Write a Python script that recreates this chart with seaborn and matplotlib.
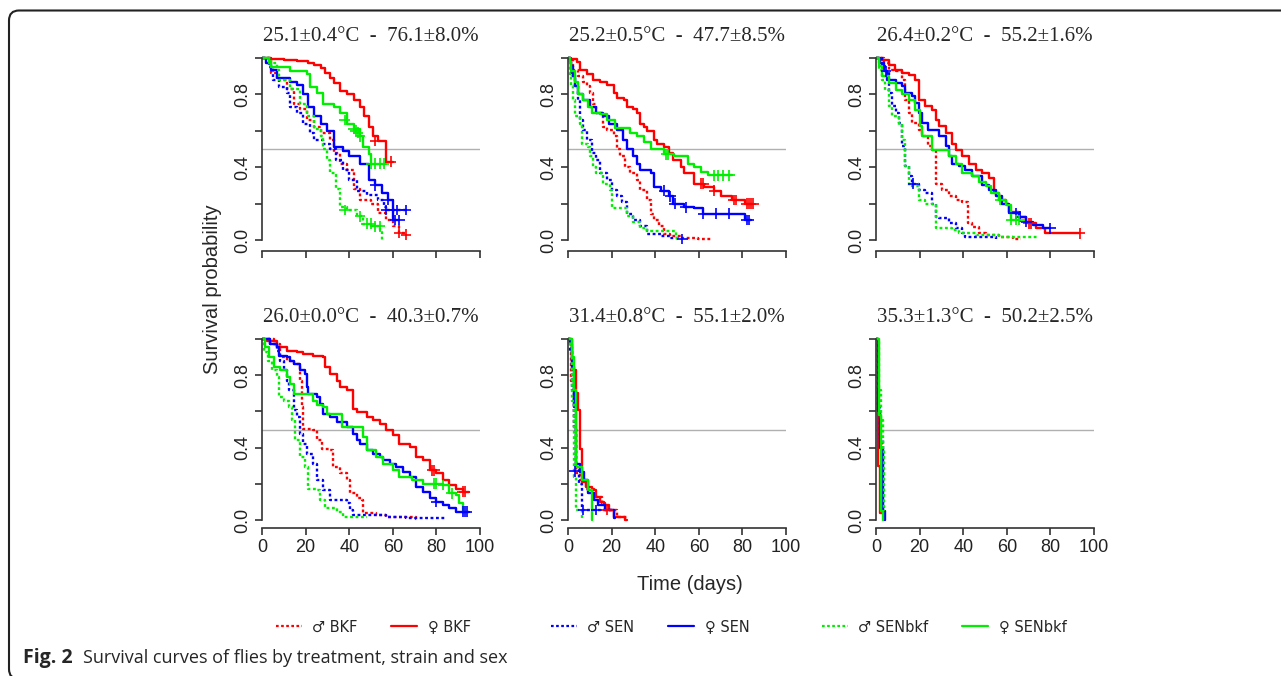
import pandas as pd
import matplotlib
matplotlib.use('Agg')
import matplotlib.pyplot as plt
import seaborn as sns
from matplotlib.lines import Line2D
from matplotlib.patches import FancyBboxPatch
from matplotlib.transforms import IdentityTransform

# groups, colours, line styles
GROUPS = ["♂ BKF", "♀ BKF", "♂ SEN", "♀ SEN", "♂ SENbkf", "♀ SENbkf"]
PALETTE = {"♂ BKF": "#ff0000", "♀ BKF": "#ff0000",
           "♂ SEN": "#0000ff", "♀ SEN": "#0000ff",
           "♂ SENbkf": "#00ee00", "♀ SENbkf": "#00ee00"}
DASHES = {"♂ BKF": (1.2, 1.1), "♀ BKF": "",
          "♂ SEN": (1.2, 1.1), "♀ SEN": "",
          "♂ SENbkf": (1.2, 1.1), "♀ SENbkf": ""}

TITLES = ["25.1±0.4°C  -  76.1±8.0%", "25.2±0.5°C  -  47.7±8.5%",
          "26.4±0.2°C  -  55.2±1.6%", "26.0±0.0°C  -  40.3±0.7%",
          "31.4±0.8°C  -  55.1±2.0%", "35.3±1.3°C  -  50.2±2.5%"]
X_TICKS = [0, 20, 40, 60, 80, 100]
Y_TICKS = [0.0, 0.2, 0.4, 0.6, 0.8, 1.0]
Y_TICK_LABELS = ["0.0", "", "0.4", "", "0.8", ""]

# ---- panel 1 : 25.1 C / 76.1 %
p1_time = {
    "♂ BKF": [0, 4, 7, 11.5, 14.5, 17.5, 20.6, 24, 27, 31, 33, 36, 39, 42, 45, 50, 53, 57, 60, 63, 66],
    "♀ BKF": [0, 4, 10, 16, 21, 24, 27, 29, 31, 33, 36, 39, 42, 45, 47, 49, 51, 53, 57, 60],
    "♂ SEN": [0, 3, 5, 8, 11.5, 13, 16, 19, 22, 24, 28, 31, 34, 37, 40, 43.5, 48, 53, 56, 57, 66],
    "♀ SEN": [0, 2, 4, 7, 13, 16, 19, 21, 24, 27, 30, 33, 37, 40, 45, 49, 52, 55, 58, 60, 63],
    "♂ SENbkf": [0, 4, 7, 8, 13, 17.5, 20.6, 24, 27, 28, 30, 31, 34, 36, 39, 43.5, 46.5, 50, 54, 55],
    "♀ SENbkf": [0, 3, 4, 13, 20.6, 22, 25, 28, 33, 36, 39, 42, 45, 46.5, 49, 50, 57],
}
p1_surv = {
    "♂ BKF": [1, 0.92, 0.88, 0.83, 0.75, 0.72, 0.66, 0.62, 0.59, 0.55, 0.48, 0.42, 0.385, 0.28, 0.22, 0.20, 0.15, 0.11, 0.075, 0.04, 0.03],
    "♀ BKF": [1, 0.995, 0.99, 0.985, 0.975, 0.96, 0.945, 0.92, 0.89, 0.86, 0.82, 0.80, 0.77, 0.73, 0.68, 0.62, 0.57, 0.545, 0.43, 0.43],
    "♂ SEN": [1, 0.95, 0.88, 0.84, 0.81, 0.73, 0.70, 0.64, 0.59, 0.55, 0.53, 0.50, 0.44, 0.385, 0.33, 0.27, 0.25, 0.22, 0.18, 0.165, 0.165],
    "♀ SEN": [1, 0.97, 0.935, 0.89, 0.87, 0.85, 0.80, 0.73, 0.68, 0.64, 0.60, 0.51, 0.49, 0.46, 0.42, 0.33, 0.30, 0.26, 0.22, 0.11, 0.11],
    "♂ SENbkf": [1, 0.97, 0.935, 0.88, 0.83, 0.75, 0.68, 0.61, 0.57, 0.50, 0.44, 0.37, 0.28, 0.18, 0.165, 0.13, 0.09, 0.075, 0.055, 0.0],
    "♀ SENbkf": [1, 0.97, 0.95, 0.93, 0.91, 0.84, 0.81, 0.75, 0.73, 0.70, 0.64, 0.61, 0.57, 0.51, 0.47, 0.42, 0.42],
}
p1_cens_t = {"♂ BKF": [63, 66], "♀ BKF": [52, 59], "♂ SEN": [57, 60, 62, 66],
             "♀ SEN": [52, 58, 61, 63], "♂ SENbkf": [38, 45, 48, 50, 52, 54],
             "♀ SENbkf": [38, 42, 43, 44, 45, 50, 52, 54, 56]}
p1_cens_s = {"♂ BKF": [0.04, 0.03], "♀ BKF": [0.545, 0.43], "♂ SEN": [0.165, 0.165, 0.165, 0.165],
             "♀ SEN": [0.30, 0.22, 0.11, 0.11], "♂ SENbkf": [0.165, 0.13, 0.09, 0.09, 0.075, 0.075],
             "♀ SENbkf": [0.66, 0.61, 0.60, 0.59, 0.57, 0.42, 0.42, 0.42, 0.42]}

# ---- panel 2 : 25.2 C / 47.7 %
p2_time = {
    "♂ BKF": [0, 2.3, 4.6, 7, 8.5, 10, 11.6, 13, 16, 17.8, 21, 22.4, 24, 26, 28.6, 31.7, 33, 36.3, 38, 39.4, 41.7, 44, 47, 51.8, 59.5, 66],
    "♀ BKF": [0, 1.5, 4, 5.4, 8.5, 11.6, 14.7, 17.8, 21, 22.4, 25.5, 27, 30, 31.7, 33, 34.8, 36.3, 39.4, 41, 44, 46.4, 48, 51.8, 53, 58, 62.6, 67, 70, 75, 81, 85],
    "♂ SEN": [0, 1.5, 3, 4.6, 5.4, 7, 8.5, 10.8, 13, 14.7, 17.8, 20, 22.4, 24.7, 27, 30, 33, 36.3, 42.5, 47, 52.5],
    "♀ SEN": [0, 1, 1.5, 2.3, 3, 4.6, 7, 10, 13, 16, 19, 22.4, 25, 27, 30, 31.7, 33, 38, 39.4, 42.5, 46.4, 48, 53, 58, 62, 81, 84],
    "♂ SENbkf": [0, 0.8, 1.5, 2.3, 3, 5.4, 6.2, 9.3, 10, 11.6, 13, 16, 19.3, 20, 27, 30, 33, 36.3, 49.5, 50],
    "♀ SENbkf": [0, 1, 1.5, 3, 4.6, 7, 9, 11, 14.7, 17.8, 21.6, 28.6, 31.7, 35, 38, 44, 48.7, 55, 58, 61, 64, 75],
}
p2_surv = {
    "♂ BKF": [1, 0.935, 0.90, 0.87, 0.845, 0.81, 0.75, 0.70, 0.62, 0.605, 0.57, 0.50, 0.46, 0.40, 0.37, 0.33, 0.275, 0.22, 0.145, 0.11, 0.075, 0.035, 0.02, 0.01, 0.005, 0.005],
    "♀ BKF": [1, 0.995, 0.98, 0.935, 0.91, 0.88, 0.87, 0.85, 0.81, 0.78, 0.77, 0.73, 0.72, 0.70, 0.64, 0.62, 0.60, 0.55, 0.53, 0.51, 0.48, 0.44, 0.40, 0.37, 0.31, 0.29, 0.27, 0.24, 0.22, 0.20, 0.20],
    "♂ SEN": [1, 0.90, 0.845, 0.77, 0.66, 0.605, 0.55, 0.48, 0.44, 0.37, 0.33, 0.275, 0.24, 0.21, 0.145, 0.11, 0.075, 0.035, 0.02, 0.01, 0.005],
    "♀ SEN": [1, 0.98, 0.955, 0.90, 0.845, 0.80, 0.77, 0.73, 0.70, 0.68, 0.64, 0.605, 0.55, 0.50, 0.46, 0.42, 0.385, 0.37, 0.29, 0.27, 0.24, 0.20, 0.18, 0.175, 0.145, 0.11, 0.11],
    "♂ SENbkf": [1, 0.90, 0.845, 0.77, 0.68, 0.64, 0.53, 0.51, 0.46, 0.40, 0.37, 0.31, 0.275, 0.175, 0.13, 0.10, 0.065, 0.05, 0.02, 0.0],
    "♀ SENbkf": [1, 0.98, 0.93, 0.87, 0.80, 0.77, 0.73, 0.70, 0.69, 0.66, 0.615, 0.59, 0.57, 0.54, 0.50, 0.47, 0.46, 0.42, 0.40, 0.375, 0.355, 0.355],
}
p2_cens_t = {"♂ BKF": [], "♀ BKF": [61, 62, 67, 76, 77, 82, 83, 84, 85], "♂ SEN": [52.5],
             "♀ SEN": [44, 47, 49, 54, 62, 68, 74, 82, 83], "♂ SENbkf": [],
             "♀ SENbkf": [45, 46, 67, 69, 71, 74]}
p2_cens_s = {"♂ BKF": [], "♀ BKF": [0.31, 0.31, 0.27, 0.22, 0.22, 0.20, 0.20, 0.20, 0.20], "♂ SEN": [0.005],
             "♀ SEN": [0.27, 0.24, 0.20, 0.18, 0.145, 0.145, 0.145, 0.11, 0.11], "♂ SENbkf": [],
             "♀ SENbkf": [0.47, 0.47, 0.355, 0.355, 0.355, 0.355]}

# ---- panel 3 : 26.4 C / 55.2 %
p3_time = {
    "♂ BKF": [0, 3.5, 5.8, 9, 12, 13.5, 15, 16.6, 19.7, 21, 24, 25.8, 27.3, 30.4, 33.5, 36.6, 39.6, 42, 44, 47.3, 50.4, 56.5, 62.7, 66.5],
    "♀ BKF": [0, 2.8, 5.8, 8.9, 12, 15, 18, 19.7, 22.7, 25.8, 27.3, 29, 32, 35, 36.6, 39.6, 42.7, 45.8, 48.8, 52, 54, 56.5, 59.6, 61, 65.7, 68.8, 73.4, 77.3, 93.4],
    "♂ SEN": [0, 2.8, 4.3, 5.8, 7.4, 9, 10.4, 12, 13.5, 15, 16.6, 19.7, 22.7, 25.8, 27.3, 29, 33.5, 36.6, 39.6, 41, 50.4, 55],
    "♀ SEN": [0, 2, 3.5, 5, 9, 12, 13.5, 16.6, 18, 19.7, 21, 24, 29, 32, 33.5, 35, 38, 41, 44, 48.8, 52, 55, 58, 61, 65.7, 68.8, 72, 76.5, 80],
    "♂ SENbkf": [0, 1.2, 2.8, 4.3, 5.8, 7.4, 10.4, 12, 13.5, 15, 19.7, 22.7, 27.3, 35, 38, 45.8, 56.5, 74],
    "♀ SENbkf": [0, 1.2, 2.8, 5.8, 9, 12, 15, 18, 20.4, 21, 25.8, 33.5, 36.6, 39.6, 44, 47.3, 50.4, 52.7, 56.5, 59.6, 62, 65.7],
}
p3_surv = {
    "♂ BKF": [1, 0.97, 0.935, 0.927, 0.88, 0.77, 0.697, 0.642, 0.605, 0.57, 0.514, 0.495, 0.31, 0.275, 0.24, 0.22, 0.21, 0.092, 0.073, 0.037, 0.028, 0.015, 0.006, 0.006],
    "♀ BKF": [1, 0.99, 0.963, 0.935, 0.917, 0.908, 0.88, 0.77, 0.734, 0.716, 0.66, 0.624, 0.587, 0.53, 0.495, 0.46, 0.42, 0.385, 0.367, 0.34, 0.257, 0.22, 0.20, 0.156, 0.128, 0.092, 0.064, 0.037, 0.037],
    "♂ SEN": [1, 0.954, 0.927, 0.807, 0.734, 0.697, 0.642, 0.514, 0.404, 0.35, 0.31, 0.275, 0.257, 0.20, 0.128, 0.12, 0.092, 0.064, 0.037, 0.018, 0.015, 0.005],
    "♀ SEN": [1, 0.97, 0.927, 0.88, 0.86, 0.844, 0.807, 0.79, 0.752, 0.697, 0.642, 0.605, 0.57, 0.514, 0.46, 0.42, 0.404, 0.385, 0.35, 0.303, 0.275, 0.24, 0.20, 0.147, 0.128, 0.10, 0.083, 0.064, 0.064],
    "♂ SENbkf": [1, 0.935, 0.88, 0.826, 0.734, 0.68, 0.633, 0.55, 0.404, 0.294, 0.22, 0.20, 0.064, 0.055, 0.037, 0.028, 0.018, 0.015],
    "♀ SENbkf": [1, 0.954, 0.90, 0.86, 0.826, 0.80, 0.77, 0.716, 0.624, 0.57, 0.495, 0.46, 0.42, 0.367, 0.35, 0.32, 0.294, 0.257, 0.22, 0.193, 0.11, 0.11],
}
p3_cens_t = {"♂ BKF": [], "♀ BKF": [70, 71, 93.4], "♂ SEN": [17],
             "♀ SEN": [4.6, 64, 66, 69, 80], "♂ SENbkf": [], "♀ SENbkf": [57, 62, 64, 65.7]}
p3_cens_s = {"♂ BKF": [], "♀ BKF": [0.092, 0.092, 0.037], "♂ SEN": [0.31],
             "♀ SEN": [0.927, 0.147, 0.128, 0.10, 0.064], "♂ SENbkf": [], "♀ SENbkf": [0.22, 0.11, 0.11, 0.11]}

# ---- panel 4 : 26.0 C / 40.3 %
p4_time = {
    "♂ BKF": [0, 5.3, 8.4, 11.4, 14.5, 17.5, 18.3, 19, 23.6, 25, 27.4, 31.2, 32.7, 35.8, 38.8, 40.3, 43.4, 45.7, 46.4, 52.5, 57, 70.8, 71.5],
    "♀ BKF": [0, 2.3, 6.8, 11.4, 16, 19, 23.6, 28, 29, 31.2, 34.2, 35.8, 38.8, 41.9, 43.4, 48, 51, 54, 57, 60, 63, 67.7, 70.8, 73.8, 76.9, 80, 83, 86, 89, 92, 95],
    "♂ SEN": [0, 3.8, 6.8, 8.4, 10, 11.4, 12.2, 14.5, 16, 17.5, 19, 20.5, 23.6, 25, 28, 31.2, 38.8, 40.3, 41.9, 57, 66, 84.5],
    "♀ SEN": [0, 3.8, 6.8, 7.6, 11.4, 13, 14.5, 17.5, 19.8, 20.5, 21.3, 25, 26.6, 28, 31, 34.2, 38.8, 41.9, 43.4, 45, 48, 51, 54, 55.6, 58.6, 61.6, 64.7, 67.7, 70.8, 73.8, 77, 80, 83, 86, 89, 95],
    "♂ SENbkf": [0, 1, 2.6, 4.6, 6.8, 7.6, 10, 12.2, 13.7, 15.2, 17.5, 19.8, 21.3, 25, 26.6, 29, 34.2, 37.3, 48],
    "♀ SENbkf": [0, 1.5, 3, 5.3, 8.4, 11.4, 13, 14.5, 23.6, 25, 28, 29.7, 36.5, 46.4, 48, 52.5, 55.6, 60, 63, 69, 73.8, 83, 86, 89, 90.5, 92],
}
p4_surv = {
    "♂ BKF": [1, 0.97, 0.90, 0.88, 0.86, 0.77, 0.624, 0.505, 0.495, 0.44, 0.394, 0.385, 0.294, 0.257, 0.22, 0.147, 0.12, 0.11, 0.037, 0.028, 0.015, 0.006, 0.006],
    "♀ BKF": [1, 0.99, 0.954, 0.935, 0.927, 0.917, 0.908, 0.90, 0.844, 0.807, 0.77, 0.734, 0.716, 0.615, 0.596, 0.57, 0.55, 0.532, 0.495, 0.468, 0.42, 0.404, 0.35, 0.33, 0.275, 0.257, 0.22, 0.193, 0.174, 0.156, 0.156],
    "♂ SEN": [1, 0.97, 0.935, 0.88, 0.826, 0.77, 0.716, 0.605, 0.57, 0.477, 0.42, 0.367, 0.31, 0.22, 0.165, 0.11, 0.092, 0.055, 0.028, 0.015, 0.01, 0.01],
    "♀ SEN": [1, 0.97, 0.954, 0.908, 0.90, 0.88, 0.86, 0.826, 0.807, 0.734, 0.697, 0.68, 0.642, 0.587, 0.57, 0.54, 0.514, 0.477, 0.44, 0.42, 0.385, 0.367, 0.35, 0.33, 0.31, 0.294, 0.266, 0.24, 0.183, 0.156, 0.12, 0.10, 0.083, 0.064, 0.046, 0.046],
    "♂ SENbkf": [1, 0.927, 0.88, 0.826, 0.79, 0.68, 0.66, 0.624, 0.55, 0.44, 0.35, 0.294, 0.174, 0.165, 0.11, 0.064, 0.046, 0.018, 0.018],
    "♀ SENbkf": [1, 0.954, 0.90, 0.844, 0.826, 0.79, 0.752, 0.697, 0.66, 0.633, 0.624, 0.587, 0.514, 0.46, 0.385, 0.35, 0.31, 0.275, 0.24, 0.22, 0.20, 0.193, 0.147, 0.138, 0.092, 0.04],
}
p4_cens_t = {"♂ BKF": [], "♀ BKF": [78, 79, 92, 93], "♂ SEN": [],
             "♀ SEN": [80, 92, 93, 94], "♂ SENbkf": [], "♀ SENbkf": [79, 80, 83, 87]}
p4_cens_s = {"♂ BKF": [], "♀ BKF": [0.275, 0.275, 0.156, 0.156], "♂ SEN": [],
             "♀ SEN": [0.10, 0.046, 0.046, 0.046], "♂ SENbkf": [], "♀ SENbkf": [0.20, 0.20, 0.193, 0.147]}

# ---- panel 5 : 31.4 C / 55.1 %
p5_time = {
    "♂ BKF": [0, 1.5, 2.7, 3.6, 5.4, 8.2, 11.8, 15.4, 17, 22.6, 27],
    "♀ BKF": [0, 1.8, 3.6, 4.5, 5.4, 6.3, 8.2, 10.9, 12.7, 14.5, 16.3, 19, 21, 26.3, 27],
    "♂ SEN": [0, 1, 1.8, 2.7, 3.6, 5, 6.3, 21],
    "♀ SEN": [0, 1, 1.8, 2.7, 3.6, 5.4, 7.2, 9, 11.8, 13.6, 17.2, 21, 21.5],
    "♂ SENbkf": [0, 1, 1.8, 2.7, 3.6, 6.5],
    "♀ SENbkf": [0, 1.8, 2.7, 3.6, 6.3, 9, 10.9],
}
p5_surv = {
    "♂ BKF": [1, 0.77, 0.514, 0.257, 0.22, 0.174, 0.128, 0.092, 0.055, 0.018, 0.01],
    "♀ BKF": [1, 0.826, 0.70, 0.605, 0.394, 0.21, 0.183, 0.165, 0.128, 0.10, 0.083, 0.055, 0.018, 0.0, 0.0],
    "♂ SEN": [1, 0.935, 0.716, 0.514, 0.294, 0.20, 0.055, 0.055],
    "♀ SEN": [1, 0.97, 0.845, 0.624, 0.31, 0.266, 0.22, 0.147, 0.11, 0.083, 0.055, 0.009, 0.009],
    "♂ SENbkf": [1, 0.954, 0.66, 0.24, 0.055, 0.0],
    "♀ SENbkf": [1, 0.90, 0.716, 0.294, 0.22, 0.165, 0.0],
}
p5_cens_t = {"♂ BKF": [18], "♀ BKF": [], "♂ SEN": [3, 7, 13],
             "♀ SEN": [], "♂ SENbkf": [], "♀ SENbkf": []}
p5_cens_s = {"♂ BKF": [0.055], "♀ BKF": [], "♂ SEN": [0.27, 0.055, 0.055],
             "♀ SEN": [], "♂ SENbkf": [], "♀ SENbkf": []}

# ---- panel 6 : 35.3 C / 50.2 %
p6_time = {
    "♂ BKF": [0, 1, 2, 2.8, 3.8],
    "♀ BKF": [0, 0.8, 1.9, 3.6],
    "♂ SEN": [0, 1, 1.8, 3, 3.8],
    "♀ SEN": [0, 1, 2, 3.2, 4.2],
    "♂ SENbkf": [0, 1.5, 2.2, 3.0, 3.6],
    "♀ SENbkf": [0, 1.2, 2.5, 3.4],
}
p6_surv = {
    "♂ BKF": [1, 0.58, 0.42, 0.08, 0.0],
    "♀ BKF": [1, 0.30, 0.04, 0.0],
    "♂ SEN": [1, 0.62, 0.45, 0.05, 0.0],
    "♀ SEN": [1, 0.60, 0.40, 0.05, 0.0],
    "♂ SENbkf": [1, 0.72, 0.55, 0.40, 0.05],
    "♀ SENbkf": [1, 0.58, 0.05, 0.0],
}
p6_cens_t = {g: [] for g in GROUPS}
p6_cens_s = {g: [] for g in GROUPS}

PANELS = [(p1_time, p1_surv, p1_cens_t, p1_cens_s),
          (p2_time, p2_surv, p2_cens_t, p2_cens_s),
          (p3_time, p3_surv, p3_cens_t, p3_cens_s),
          (p4_time, p4_surv, p4_cens_t, p4_cens_s),
          (p5_time, p5_surv, p5_cens_t, p5_cens_s),
          (p6_time, p6_surv, p6_cens_t, p6_cens_s)]

# long tables for seaborn
curve_rows, cens_rows = [], []
for i, (tt, ss, ct, cs) in enumerate(PANELS):
    for g in GROUPS:
        for t, s in zip(tt[g], ss[g]):
            curve_rows.append((i, g, t, s))
        for t, s in zip(ct[g], cs[g]):
            cens_rows.append((i, g, t, s))
curves = pd.DataFrame(curve_rows, columns=["panel", "group", "time", "surv"])
censored = pd.DataFrame(cens_rows, columns=["panel", "group", "time", "surv"])

sns.set_style("ticks")
plt.rcParams['font.family'] = ['Liberation Sans', 'DejaVu Sans']

W, H = 1281, 676
fig = plt.figure(figsize=(W / 100, H / 100), dpi=100)

# panel boxes in pixels: x of day 0, y of surv 1.0 / 0.0 and of the x axis line
COL_X0 = [262, 568, 876]
PANEL_W = 218
ROW_Y1 = [58, 339]
ROW_Y0 = [240, 520]
ROW_AX = [251, 528]
AXC = '#333333'

for i in range(6):
    row, col = divmod(i, 3)
    ppu = ROW_Y0[row] - ROW_Y1[row]
    top = ROW_Y1[row] - 0.04 * ppu
    ylo = -(ROW_AX[row] - ROW_Y0[row]) / ppu
    ax = fig.add_axes([COL_X0[col] / W, 1 - ROW_AX[row] / H,
                       PANEL_W / W, (ROW_AX[row] - top) / H])
    ax.axhline(0.5, color='#b0b0b0', lw=1.0, zorder=1)

    sub = curves[curves.panel == i]
    sns.lineplot(data=sub, x="time", y="surv", hue="group", style="group",
                 hue_order=GROUPS, style_order=GROUPS, palette=PALETTE,
                 dashes=DASHES, estimator=None, sort=False,
                 drawstyle='steps-post', linewidth=1.7, legend=False, ax=ax)
    csub = censored[censored.panel == i]
    if len(csub):
        sns.scatterplot(data=csub, x="time", y="surv", hue="group",
                        hue_order=GROUPS, palette=PALETTE, marker='+', s=60,
                        linewidth=1.2, legend=False, ax=ax, zorder=3)

    ax.set_xlim(0, 100)
    ax.set_ylim(ylo, 1.04)
    sns.despine(ax=ax)
    ax.spines['left'].set_bounds(0, 1)
    ax.spines['bottom'].set_bounds(0, 100)
    for sp in ('left', 'bottom'):
        ax.spines[sp].set_color(AXC)
        ax.spines[sp].set_linewidth(1.2)
    ax.set_xticks(X_TICKS)
    ax.set_yticks(Y_TICKS, Y_TICK_LABELS)
    for lbl in ax.get_yticklabels():
        lbl.set_rotation(90)
        lbl.set_va('center')
    ax.tick_params(direction='out', length=5, width=1.2, color=AXC,
                   labelsize=13, labelcolor='#222222', pad=3)
    if row == 0:
        ax.tick_params(axis='x', labelbottom=False)
    ax.set_xlabel("")
    ax.set_ylabel("")
    ax.set_title(TITLES[i], family='Liberation Serif', fontsize=15, pad=7)

fig.text(212 / W, 1 - 289 / H, "Survival probability", rotation=90,
         ha='center', va='center', fontsize=14.5)
fig.text(690 / W, 1 - 585 / H, "Time (days)", ha='center', va='center',
         fontsize=14.5)

# legend: three pairs
LEG_X = [276, 551, 822]
for k, x in enumerate(LEG_X):
    pair = GROUPS[2 * k:2 * k + 2]
    handles = [Line2D([], [], color=PALETTE[g], lw=1.6,
                      dashes=DASHES[g] if DASHES[g] else (None, None))
               for g in pair]
    fig.legend(handles, pair, loc='center left',
               bbox_to_anchor=(x / W, 1 - 627 / H), ncol=2, frameon=False,
               prop={'family': 'DejaVu Sans', 'size': 10.5},
               handlelength=1.75, handletextpad=0.75,
               columnspacing=2.3, borderpad=0, borderaxespad=0)

fig.text(23 / W, 1 - 663 / H, "Fig. 2", family='Open Sans', weight='bold',
         fontsize=14, va='baseline')
fig.text(83 / W, 1 - 663 / H, "Survival curves of flies by treatment, strain and sex",
         family='Open Sans', fontsize=13, va='baseline')

frame = FancyBboxPatch((9, -3), 1300, H - 10.5 + 3,
                       boxstyle="round,pad=0,rounding_size=10",
                       transform=IdentityTransform(), fill=False,
                       edgecolor='#222222', lw=1.5)
fig.add_artist(frame)

plt.savefig('out.png', dpi=100)
print("Saved out.png")
